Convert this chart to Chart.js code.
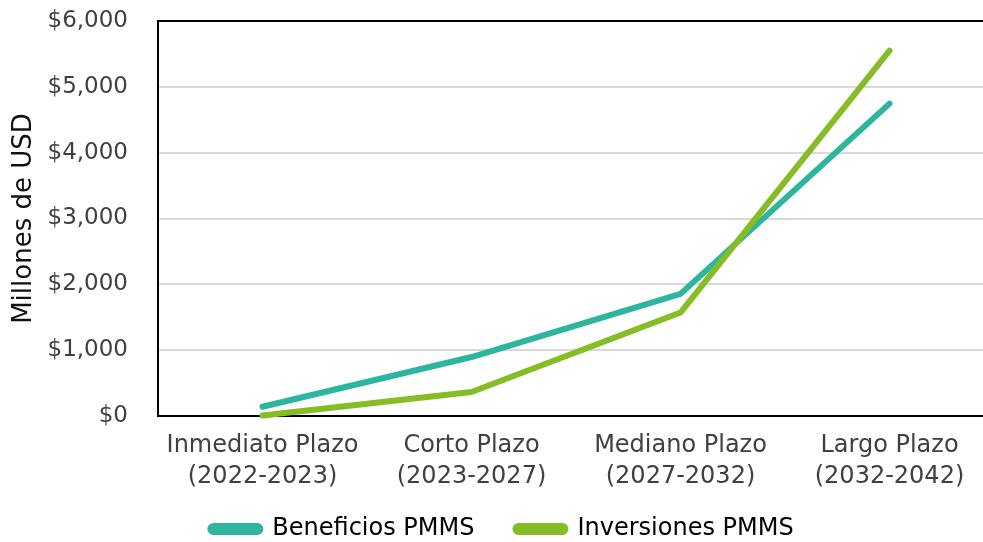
<!DOCTYPE html>
<html>
<head>
<meta charset="utf-8">
<script src="https://cdn.jsdelivr.net/npm/chart.js@4/dist/chart.umd.min.js"></script>
<style>
  html, body { margin: 0; padding: 0; background: #fff; overflow: hidden; }
  #wrap { position: relative; width: 994px; height: 542px; }
</style>
</head>
<body>
<div id="wrap"><canvas id="chart"></canvas></div>
<script>
// periods and values in millions of USD
const periods = [
  ['Inmediato Plazo', '(2022-2023)'],
  ['Corto Plazo', '(2023-2027)'],
  ['Mediano Plazo', '(2027-2032)'],
  ['Largo Plazo', '(2032-2042)']
];
const beneficios = [140, 896, 1855, 4745];
const inversiones = [8, 365, 1572, 5550];
const yTicks = { min: 0, max: 6000, step: 1000 };

const TEAL = '#2db5a0';
const GREEN = '#86bc25';
const FONT = "'DejaVu Sans', sans-serif";

// keep the legend short and nudge its row into place
const legendTweak = {
  id: 'legendTweak',
  beforeInit(chart) {
    const legend = chart.legend;
    const fit = legend.fit;
    legend.fit = function () {
      fit.call(this);
      this.height = 48;
    };
    const draw = legend.draw;
    legend.draw = function () {
      this.top -= 18;
      this.left += 5;
      this.right += 5;
      draw.call(this);
      this.top += 18;
      this.left -= 5;
      this.right -= 5;
    };
  }
};

const ctx = document.getElementById('chart').getContext('2d');
new Chart(ctx, {
  type: 'line',
  data: {
    labels: periods,
    datasets: [
      { label: 'Beneficios PMMS', data: beneficios, borderColor: TEAL, backgroundColor: TEAL, order: 1 },
      { label: 'Inversiones PMMS', data: inversiones, borderColor: GREEN, backgroundColor: GREEN, order: 0 }
    ]
  },
  options: {
    responsive: true,
    maintainAspectRatio: false,
    animation: false,
    layout: { padding: { top: 21, left: 0, right: 0, bottom: 0 } },
    elements: {
      line: { borderWidth: 6, tension: 0, borderCapStyle: 'round', borderJoinStyle: 'round' },
      point: { radius: 0, hoverRadius: 0 }
    },
    datasets: { line: { clip: false } },
    scales: {
      x: {
        offset: true,
        grid: { display: false, drawTicks: false },
        border: { display: true, color: '#000', width: 2 },
        ticks: {
          color: '#404040',
          padding: 14,
          maxRotation: 0,
          font: { family: FONT, size: 24, weight: 400, lineHeight: 1.3 }
        },
        afterFit: (s) => { s.height = 78; }
      },
      y: {
        min: yTicks.min,
        max: yTicks.max,
        grid: {
          drawTicks: false,
          color: (c) => (c.tick && c.tick.value === yTicks.max) ? '#000' : '#d9d9d9',
          lineWidth: 2
        },
        border: { display: true, color: '#000', width: 2 },
        ticks: {
          stepSize: yTicks.step,
          color: '#404040',
          padding: 30,
          font: { family: FONT, size: 23, weight: 400 },
          callback: (v) => '$' + v.toLocaleString('en-US')
        },
        title: {
          display: true,
          text: 'Millones de USD',
          color: '#111',
          padding: { top: 9, bottom: 0 },
          font: { family: FONT, size: 26, weight: 400 }
        },
        afterFit: (s) => {
          s.width = 158;
          s.paddingTop = 0;
          s.paddingBottom = 0;
        }
      }
    },
    plugins: {
      legend: {
        position: 'bottom',
        labels: {
          sort: (a, b) => a.datasetIndex - b.datasetIndex,
          boxWidth: 50,
          boxHeight: 6,
          useBorderRadius: true,
          borderRadius: 3,
          padding: 41,
          color: '#000',
          font: { family: FONT, size: 24, weight: 400 }
        }
      },
      tooltip: { enabled: false }
    }
  },
  plugins: [legendTweak]
});
</script>
</body>
</html>
